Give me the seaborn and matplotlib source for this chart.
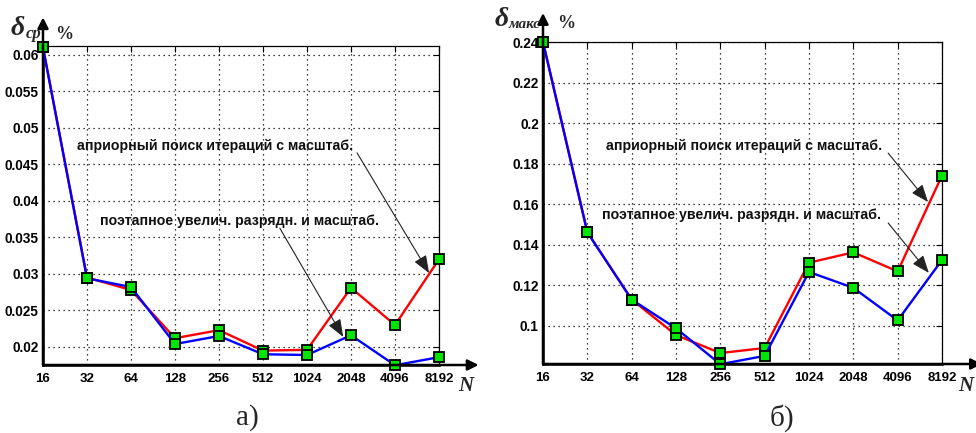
import matplotlib
matplotlib.use("Agg")
import matplotlib.pyplot as plt
import seaborn as sns
import pandas as pd

# ---- data ----
N = [16, 32, 64, 128, 256, 512, 1024, 2048, 4096, 8192]
N_labels = ["16", "32", "64", "128", "256", "512", "1024", "2048", "4096", "8192"]

# (a) mean error, %
avg_apriori = [0.0610, 0.0295, 0.0278, 0.0212, 0.0223, 0.0195, 0.0196, 0.0281, 0.0230, 0.0320]
avg_stepwise = [0.0610, 0.0294, 0.0282, 0.0204, 0.0215, 0.0190, 0.0189, 0.0216, 0.0175, 0.0186]
avg_yticks = [0.02, 0.025, 0.03, 0.035, 0.04, 0.045, 0.05, 0.055, 0.06]
avg_yticklabels = ["0.02", "0.025", "0.03", "0.035", "0.04", "0.045", "0.05", "0.055", "0.06"]

# (б) max error, %
max_apriori = [0.2400, 0.1461, 0.1129, 0.0954, 0.0865, 0.0890, 0.1311, 0.1362, 0.1268, 0.1741]
max_stepwise = [0.2400, 0.1461, 0.1129, 0.0987, 0.0810, 0.0851, 0.1265, 0.1187, 0.1026, 0.1324]
max_yticks = [0.1, 0.12, 0.14, 0.16, 0.18, 0.2, 0.22, 0.24]
max_yticklabels = ["0.1", "0.12", "0.14", "0.16", "0.18", "0.2", "0.22", "0.24"]

label_apriori = "априорный поиск итераций с масштаб."
label_stepwise = "поэтапное увелич. разрядн. и масштаб."

sns.set_style("white")
plt.rcParams["font.family"] = ["Liberation Sans", "DejaVu Sans"]

fig = plt.figure(figsize=(9.76, 4.33), dpi=100)
ax1 = fig.add_axes([43 / 976, 1 - 365 / 433, 396 / 976, 319 / 433])
ax2 = fig.add_axes([543 / 976, 1 - 364 / 433, 399 / 976, 322 / 433])

GREEN = "#00e600"
serif = ["Liberation Serif", "DejaVu Serif"]


def draw(ax, red, blue, ylim, yticks, yticklabels, texts, arrows):
    df = pd.DataFrame({"N": N, "red": red, "blue": blue})
    for col, c in (("red", "#ff0000"), ("blue", "#0000ff")):
        sns.lineplot(data=df, x="N", y=col, ax=ax, color=c, linewidth=1.7,
                     marker="s", markersize=6.5, markerfacecolor=GREEN,
                     markeredgecolor="black", markeredgewidth=1.3,
                     clip_on=False, zorder=3)
    ax.set_xscale("log", base=2)
    ax.set_xlim(16, 8192)
    ax.set_ylim(*ylim)
    ax.set_xticks(N)
    ax.set_xticklabels(N_labels)
    ax.minorticks_off()
    ax.set_yticks(yticks)
    ax.set_yticklabels(yticklabels)
    ax.set_xlabel("")
    ax.set_ylabel("")
    ax.grid(True, linestyle=(0, (1, 3)), color="black", linewidth=0.9)
    ax.tick_params(direction="in", length=4, width=0.8, top=True, right=True,
                   colors="black")
    ax.tick_params(axis="x", labelsize=9.5, pad=6)
    ax.tick_params(axis="y", labelsize=9.8, pad=3)
    for lab in ax.get_xticklabels() + ax.get_yticklabels():
        lab.set_fontweight("bold")
    for s in ("top", "right"):
        ax.spines[s].set_linewidth(0.9)
        ax.spines[s].set_color("black")
    for s in ("left", "bottom"):
        ax.spines[s].set_linewidth(1.8)
        ax.spines[s].set_color("black")
    # axis arrows
    ax.annotate("", xy=(1.10, 0), xycoords="axes fraction", xytext=(0, 0),
                arrowprops=dict(arrowstyle="-|>", color="black", lw=1.8,
                                mutation_scale=16, shrinkA=0, shrinkB=0),
                annotation_clip=False)
    ax.annotate("", xy=(0, 1.09), xycoords="axes fraction", xytext=(0, 0),
                arrowprops=dict(arrowstyle="-|>", color="black", lw=1.8,
                                mutation_scale=16, shrinkA=0, shrinkB=0),
                annotation_clip=False)
    for (tx, ty, t) in texts:
        ax.text(tx, ty, t, transform=ax.transAxes, fontsize=10.2,
                fontweight="bold", va="center", ha="left", color="#111111")
    for (x0, y0, x1, y1) in arrows:
        ax.annotate("", xy=(x1, y1), xycoords="axes fraction",
                    xytext=(x0, y0), textcoords="axes fraction",
                    arrowprops=dict(arrowstyle="-|>,head_length=0.9,head_width=0.35",
                                    color="#222222", lw=0.8,
                                    mutation_scale=12, shrinkA=0, shrinkB=0),
                    annotation_clip=False)


draw(ax1, avg_apriori, avg_stepwise, (0.01753, 0.0612), avg_yticks, avg_yticklabels,
     [(0.086, 0.687, label_apriori), (0.144, 0.451, label_stepwise)],
     [(0.793, 0.665, 0.975, 0.288), (0.598, 0.429, 0.758, 0.088)])
draw(ax2, max_apriori, max_stepwise, (0.0811, 0.2400), max_yticks, max_yticklabels,
     [(0.158, 0.677, label_apriori), (0.148, 0.463, label_stepwise)],
     [(0.865, 0.655, 0.965, 0.503), (0.865, 0.438, 0.967, 0.283)])

# axis titles (figure pixel coordinates)
def ftxt(px, py, s, **kw):
    fig.text(px / 976, 1 - py / 433, s, **kw)

ftxt(11, 35, "δ", fontsize=20, fontweight="bold", style="italic", family=serif, va="baseline")
ftxt(26, 38, "ср", fontsize=12, fontweight="bold", style="italic", family=serif, va="baseline")
ftxt(55, 39, "%", fontsize=13, fontweight="bold", family=serif, va="baseline")
ftxt(495, 26, "δ", fontsize=20, fontweight="bold", style="italic", family=serif, va="baseline")
ftxt(509, 28, "макс", fontsize=11, fontweight="bold", style="italic", family=serif, va="baseline")
ftxt(557, 28, "%", fontsize=13, fontweight="bold", family=serif, va="baseline")

ftxt(466, 386, "N", fontsize=15, fontweight="bold", style="italic", family=serif, ha="center", va="center")
ftxt(966, 386, "N", fontsize=15, fontweight="bold", style="italic", family=serif, ha="center", va="center")

ftxt(247, 418, "а)", fontsize=21, family=serif, ha="center", va="center")
ftxt(782, 418, "б)", fontsize=21, family=serif, ha="center", va="center")

fig.savefig("out.png", dpi=100, facecolor="white")
